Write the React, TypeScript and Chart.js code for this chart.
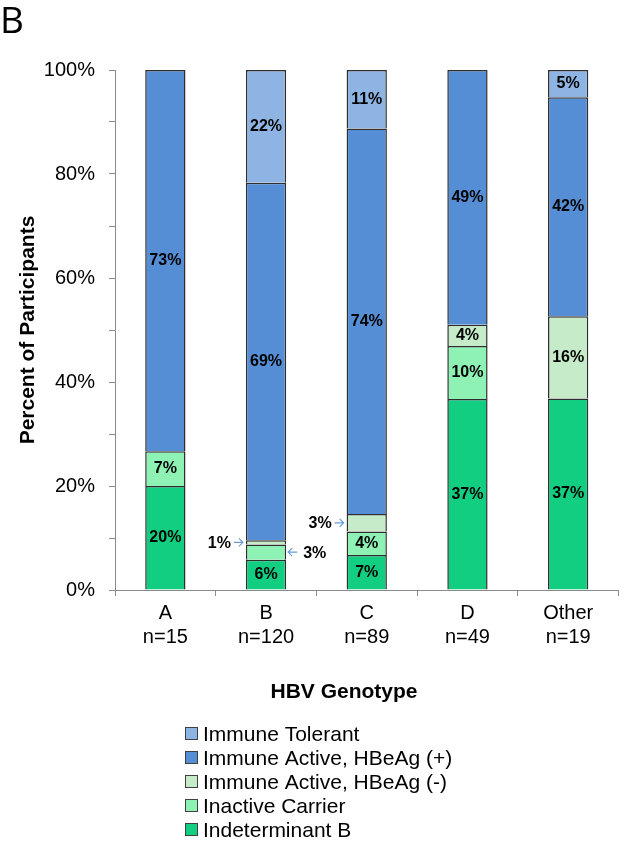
import React, { useEffect, useRef } from "react";
import { Chart, registerables } from "chart.js";

Chart.register(...registerables);

const categories = ["A", "B", "C", "D", "Other"];
const sampleSizes = ["n=15", "n=120", "n=89", "n=49", "n=19"];

// stacked bottom -> top
const indeterminantB = [20.0, 5.83, 6.74, 36.73, 36.84];
const inactiveCarrier = [6.67, 2.92, 4.49, 10.2, 0];
const immuneActiveNeg = [0, 0.83, 3.37, 4.08, 15.79];
const immuneActivePos = [73.33, 68.75, 74.16, 48.99, 42.11];
const immuneTolerant = [0, 21.67, 11.24, 0, 5.26];

const seriesNames = [
  "Indeterminant B",
  "Inactive Carrier",
  "Immune Active, HBeAg (-)",
  "Immune Active, HBeAg (+)",
  "Immune Tolerant",
];
const seriesColors = ["#12CE81", "#8EF2B5", "#C6EBC8", "#558ED5", "#8EB4E3"];

const yTicks = [0, 20, 40, 60, 80, 100];

// labels drawn outside the bar with an arrow: [series index, category index, side]
const callouts: [number, number, "left" | "right"][] = [
  [2, 1, "left"],
  [1, 1, "right"],
  [2, 2, "left"],
];

const FONT = "'Liberation Sans', Arial, sans-serif";

export default function App() {
  const ref = useRef<HTMLCanvasElement | null>(null);

  useEffect(() => {
    if (!ref.current) return;
    const seriesData = [indeterminantB, inactiveCarrier, immuneActiveNeg, immuneActivePos, immuneTolerant];

    const labelPlugin = {
      id: "segLabels",
      afterDatasetsDraw(chart: any) {
        const ctx = chart.ctx;
        ctx.save();
        ctx.font = `bold 16px ${FONT}`;
        ctx.fillStyle = "#000";
        ctx.textBaseline = "middle";
        chart.data.datasets.forEach((ds: any, i: number) => {
          const meta = chart.getDatasetMeta(i);
          meta.data.forEach((bar: any, j: number) => {
            const v = seriesData[i][j];
            if (!v) return;
            const text = Math.round(v) + "%";
            const yc = (bar.y + bar.base) / 2;
            const co = callouts.find((c) => c[0] === i && c[1] === j);
            if (co) {
              const half = bar.width / 2;
              ctx.strokeStyle = "#6B9BD8";
              ctx.lineWidth = 1.2;
              let tip: number, tail: number, dir: number;
              if (co[2] === "left") {
                tip = bar.x - half - 3;
                tail = tip - 9;
                dir = 1;
              } else {
                tip = bar.x + half + 2;
                tail = tip + 9;
                dir = -1;
              }
              ctx.beginPath();
              ctx.moveTo(tail, yc);
              ctx.lineTo(tip, yc);
              ctx.moveTo(tip - dir * 4, yc - 4);
              ctx.lineTo(tip, yc);
              ctx.lineTo(tip - dir * 4, yc + 4);
              ctx.stroke();
              if (co[2] === "left") {
                ctx.textAlign = "right";
                ctx.fillText(text, tail - 3, yc + 1);
              } else {
                ctx.textAlign = "left";
                ctx.fillText(text, tail + 6, yc + 2);
              }
            } else {
              ctx.textAlign = "center";
              ctx.fillText(text, bar.x, yc);
            }
          });
        });
        ctx.restore();
      },
    };

    const decorPlugin = {
      id: "decor",
      afterDraw(chart: any) {
        const ctx = chart.ctx;
        const area = chart.chartArea;
        ctx.save();
        ctx.fillStyle = "#000";
        // panel letter
        ctx.font = `37px 'Open Sans', ${FONT}`;
        ctx.textAlign = "left";
        ctx.textBaseline = "alphabetic";
        ctx.fillText("B", 0, 33);
        // y title
        ctx.font = `bold 21px ${FONT}`;
        ctx.textAlign = "center";
        ctx.textBaseline = "middle";
        ctx.save();
        ctx.translate(28, (area.top + area.bottom) / 2);
        ctx.rotate(-Math.PI / 2);
        ctx.fillText("Percent of Participants", 0, 0);
        ctx.restore();
        // x title
        ctx.fillText("HBV Genotype", 344, 692);
        // legend (top -> bottom reverse of stack)
        ctx.font = `21px ${FONT}`;
        ctx.textAlign = "left";
        for (let k = 0; k < seriesNames.length; k++) {
          const idx = seriesNames.length - 1 - k;
          const yc = 734 + k * 24;
          ctx.fillStyle = seriesColors[idx];
          ctx.fillRect(185.5, yc - 6.5, 12, 12);
          ctx.strokeStyle = "#404040";
          ctx.lineWidth = 1;
          ctx.strokeRect(185.5, yc - 6.5, 12, 12);
          ctx.fillStyle = "#000";
          ctx.fillText(seriesNames[idx], 203, yc + 1);
        }
        ctx.restore();
      },
    };

    const chart = new Chart(ref.current, {
      type: "bar",
      data: {
        labels: categories.map((c, i) => [c, sampleSizes[i]]),
        datasets: seriesNames.map((name, i) => ({
          label: name,
          data: seriesData[i].map((v) => (v ? v : null)),
          backgroundColor: seriesColors[i],
          borderColor: "#2E2E2E",
          borderWidth: 1.5,
          barPercentage: 0.4,
          categoryPercentage: 1,
        })),
      },
      options: {
        responsive: false,
        animation: false,
        layout: { padding: { top: 70, left: 0, right: 6.5, bottom: 192 } },
        plugins: { legend: { display: false }, tooltip: { enabled: false } },
        scales: {
          x: {
            stacked: true,
            afterFit: (s: any) => {
              s.height = 60;
            },
            grid: { display: true, drawOnChartArea: false, drawTicks: true, tickLength: 6, color: "#8A8A8A" },
            border: { display: true, color: "#8A8A8A", width: 1 },
            ticks: {
              color: "#000",
              padding: 5,
              font: { family: FONT, size: 20, lineHeight: 1.2 },
              maxRotation: 0,
              autoSkip: false,
            },
          },
          y: {
            stacked: true,
            min: 0,
            max: 100,
            afterFit: (s: any) => {
              s.width = 115;
            },
            grid: { display: true, drawOnChartArea: false, drawTicks: true, tickLength: 6, color: "#8A8A8A" },
            border: { display: true, color: "#8A8A8A", width: 1 },
            ticks: {
              stepSize: 10,
              autoSkip: false,
              color: "#000",
              padding: 14,
              font: { family: FONT, size: 20 },
              callback: (v: any) => (yTicks.includes(Number(v)) ? v + "%" : ""),
            },
          },
        },
      },
      plugins: [labelPlugin, decorPlugin],
    });
    return () => chart.destroy();
  }, []);

  return (
    <div style={{ position: "absolute", left: 0, top: 0, width: 625, height: 842, background: "#fff" }}>
      <canvas ref={ref} width={625} height={842} />
    </div>
  );
}
